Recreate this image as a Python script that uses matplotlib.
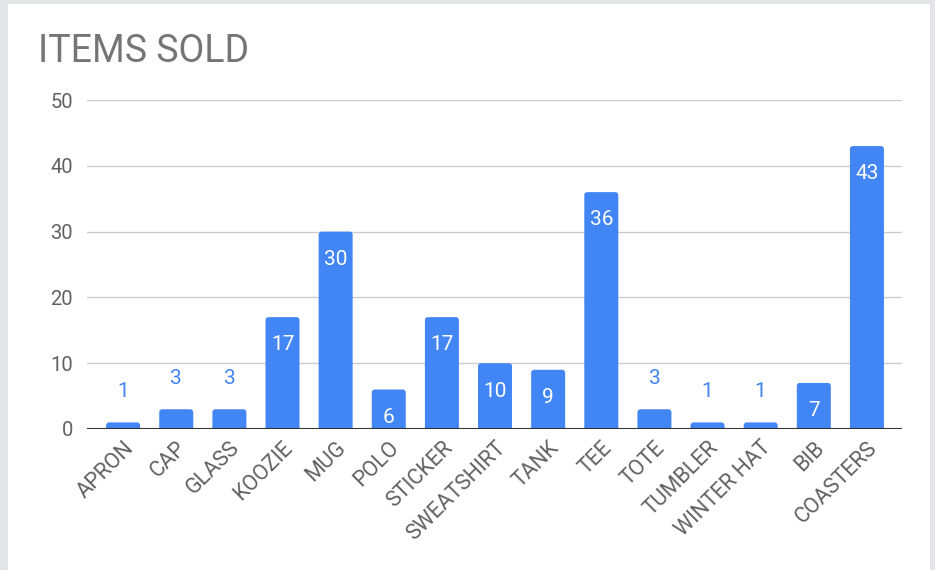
import matplotlib
matplotlib.use("Agg")
import matplotlib.pyplot as plt
from matplotlib.patches import Rectangle, FancyBboxPatch

items = ["APRON", "CAP", "GLASS", "KOOZIE", "MUG", "POLO", "STICKER",
         "SWEATSHIRT", "TANK", "TEE", "TOTE", "TUMBLER", "WINTER HAT",
         "BIB", "COASTERS"]
sold = [1, 3, 3, 17, 30, 6, 17, 10, 9, 36, 3, 1, 1, 7, 43]
yticks = [0, 10, 20, 30, 40, 50]

BLUE = "#4285f4"
GREY = "#616161"
plt.rcParams["font.family"] = ["Roboto", "DejaVu Sans"]

W, H = 935, 570
fig = plt.figure(figsize=(W / 100, H / 100), dpi=100, facecolor="#e3e5e8")

# white card over the grey backdrop, drawn in its own background axes
bg = fig.add_axes([0, 0, 1, 1], zorder=-10)
bg.set_axis_off()
bg.set_xlim(0, W); bg.set_ylim(H, 0)
bg.add_patch(Rectangle((8, 4), 922, H - 4, facecolor="white", edgecolor="none"))

ax_h = (429 - 100) / H
ax = fig.add_axes([87 / W, 1 - 429 / H, (902 - 87) / W, ax_h], zorder=1)
ax.set_facecolor("none")
ax.set_xlim(-0.68, len(items) - 1 + 0.66)
ax.set_ylim(0, 50)

# bars with slightly rounded tops
bw = 0.64
px_x = (902 - 87) / (ax.get_xlim()[1] - ax.get_xlim()[0])   # px per x unit
px_y = (429 - 100) / 50.0                                     # px per y unit
r = 3.0 / px_x
for i, v in enumerate(sold):
    ax.add_patch(FancyBboxPatch((i - bw / 2, -1), bw, v + 1,
                                boxstyle=f"round,pad=0,rounding_size={r}",
                                mutation_aspect=px_x / px_y,
                                facecolor=BLUE, edgecolor="none", zorder=3))

for i, v in enumerate(sold):
    if v >= 5:
        ax.annotate(str(v), (i, v), xytext=(0, -24), textcoords="offset points",
                    ha="center", va="baseline", color="white", fontsize=15, zorder=4)
    else:
        ax.annotate(str(v), (i, v), xytext=(0, 18.5), textcoords="offset points",
                    ha="center", va="baseline", color=BLUE, fontsize=15, zorder=4)

ax.set_yticks(yticks)
ax.set_xticks(range(len(items)))
ax.set_xticklabels(items, rotation=45, ha="right", rotation_mode="anchor",
                   fontsize=15.5, color=GREY)
ax.tick_params(axis="y", labelsize=14.5, labelcolor=GREY, length=0, pad=10)
ax.tick_params(axis="x", length=0, pad=6)
ax.grid(axis="y", color="#cccccc", lw=1, zorder=0)
ax.axhline(0, color="#333333", lw=1.5, zorder=5)
for s in ax.spines.values():
    s.set_visible(False)

fig.text(38 / W, 1 - 62 / H, "ITEMS SOLD", fontsize=27, color="#757575",
         ha="left", va="baseline")

fig.savefig("out.png", dpi=100, facecolor=fig.get_facecolor())
